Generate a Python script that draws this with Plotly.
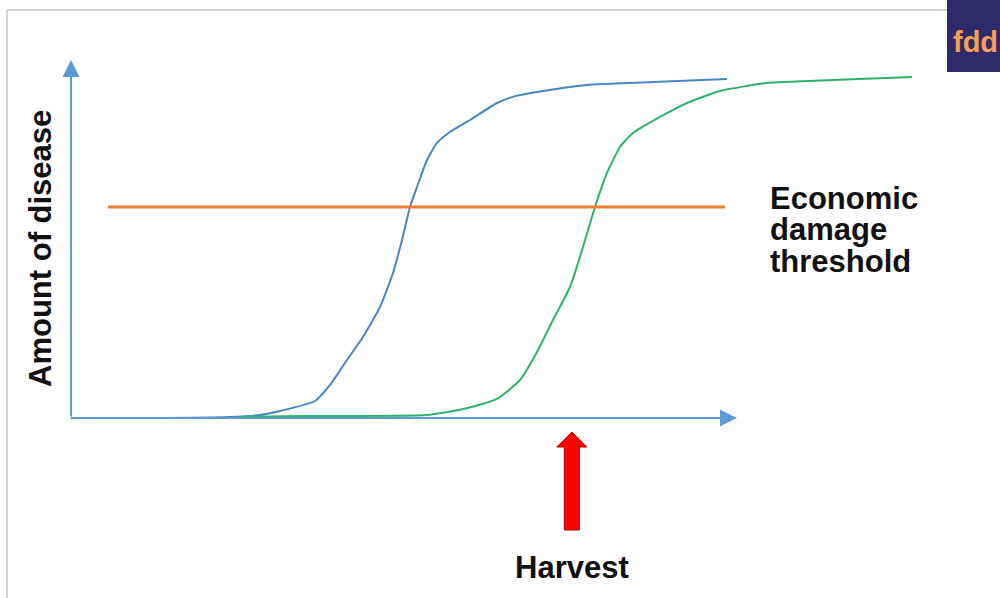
import plotly.graph_objects as go

# ---- data (time units vs amount of disease units) ----
blue_time = [0, 11.86, 23.87, 28.38, 31.38, 36.64, 38.89, 41.44, 43.84, 46.40, 48.35, 49.70, 50.90,
             51.95, 53.45, 54.95, 56.91, 59.91, 63.96, 66.7, 69.97, 77.48, 87.39, 98.50]
blue_disease = [0, 0, 0.28, 0.84, 1.96, 4.75, 9.22, 16.20, 22.63, 31.01, 40.50, 49.72, 58.94,
                64.53, 72.07, 76.82, 79.89, 83.24, 87.99, 89.9, 91.06, 93.02, 93.85, 94.69]

green_time = [25.38, 34.38, 53.45, 58.86, 63.96, 67.42, 69.97, 72.37, 74.92, 76.88, 78.68, 80.48,
              82.43, 84.38, 88.44, 92.49, 97.45, 104.50, 114.41, 126.28]
green_disease = [0.28, 0.56, 0.84, 2.51, 5.31, 10.61, 18.44, 27.37, 36.59, 47.77, 58.94, 68.44,
                 75.70, 79.61, 84.08, 87.99, 91.34, 93.58, 94.41, 95.25]

threshold_level = 58.94
threshold_span = [5.56, 98.2]
harvest_time = 75.2
axis_len_x = 100
axis_len_y = 100

# ---- figure ----
W, H = 1000, 598
x0_px, x100_px = 71, 737
y0_px, y100_px = 418, 60
sx = (x100_px - x0_px) / 100.0
sy = (y0_px - y100_px) / 100.0
xr = [-x0_px / sx, (W - x0_px) / sx]
yr = [-(H - y0_px) / sy, y0_px / sy]

fig = go.Figure()

blue = "#4a85c6"
green = "#2fb36a"
axis_blue = "#5b9bd5"

fig.add_trace(go.Scatter(x=blue_time, y=blue_disease, mode="lines",
                         line=dict(color=blue, width=2, shape="spline", smoothing=0.5),
                         hoverinfo="skip"))
fig.add_trace(go.Scatter(x=green_time, y=green_disease, mode="lines",
                         line=dict(color=green, width=2, shape="spline", smoothing=0.5),
                         hoverinfo="skip"))
fig.add_trace(go.Scatter(x=threshold_span, y=[threshold_level, threshold_level], mode="lines",
                         line=dict(color="#ed7d31", width=3), hoverinfo="skip"))

# harvest block arrow built from harvest_time
shaft_hw = 7.5 / sx
head_hw = 15 / sx
tip_y = -14 / sy
head_base_y = -29 / sy
bottom_y = -112 / sy
ax_pts = [harvest_time - shaft_hw, harvest_time - shaft_hw, harvest_time - head_hw, harvest_time,
          harvest_time + head_hw, harvest_time + shaft_hw, harvest_time + shaft_hw, harvest_time - shaft_hw]
ay_pts = [bottom_y, head_base_y, head_base_y, tip_y, head_base_y, head_base_y, bottom_y, bottom_y]
fig.add_trace(go.Scatter(x=ax_pts, y=ay_pts, mode="lines", fill="toself", fillcolor="#ff0000",
                         line=dict(color="#b00000", width=1), hoverinfo="skip"))

# axes arrows
fig.add_annotation(x=axis_len_x, y=0, ax=0, ay=0, xref="x", yref="y", axref="x", ayref="y",
                   text="", showarrow=True, arrowhead=2, arrowsize=1.7, arrowwidth=2,
                   arrowcolor=axis_blue, standoff=0)
fig.add_annotation(x=0, y=axis_len_y, ax=0, ay=0, xref="x", yref="y", axref="x", ayref="y",
                   text="", showarrow=True, arrowhead=2, arrowsize=1.7, arrowwidth=2,
                   arrowcolor=axis_blue, standoff=0)

font = dict(family="Liberation Sans, Arial, sans-serif", size=31, color="#111111")

def px(xp, yp):
    return xp / W, 1 - yp / H

# y label
x_, y_ = px(40, 249)
fig.add_annotation(x=x_, y=y_, xref="paper", yref="paper", text="<b>Amount of disease</b>",
                   showarrow=False, textangle=-90, font=font, xanchor="center", yanchor="middle")
# threshold label (three lines)
for txt, yp in [("Economic", 198), ("damage", 229), ("threshold", 261)]:
    x_, y_ = px(768, yp)
    fig.add_annotation(x=x_, y=y_, xref="paper", yref="paper", text="<b>%s</b>" % txt,
                       showarrow=False, font=font, xanchor="left", yanchor="middle")
# harvest label
x_, y_ = px(572, 567)
fig.add_annotation(x=x_, y=y_, xref="paper", yref="paper", text="<b>Harvest</b>",
                   showarrow=False, font=font, xanchor="center", yanchor="middle")

# page border and logo
shapes = [
    dict(type="line", xref="paper", yref="paper", x0=7 / W, x1=947 / W, y0=1 - 10 / H, y1=1 - 10 / H,
         line=dict(color="#c4c4c4", width=1.5)),
    dict(type="line", xref="paper", yref="paper", x0=7 / W, x1=7 / W, y0=1 - 10 / H, y1=0,
         line=dict(color="#c4c4c4", width=1.5)),
    dict(type="rect", xref="paper", yref="paper", x0=947 / W, x1=1, y0=1 - 72 / H, y1=1,
         fillcolor="#2f2b6b", line=dict(width=0)),
]
x_, y_ = px(951, 42)
fig.add_annotation(x=x_, y=y_, xref="paper", yref="paper", text="<b>fdd</b>", showarrow=False,
                   font=dict(family="Liberation Sans, Arial, sans-serif", size=29, color="#f2a052"),
                   xanchor="left", yanchor="middle")

fig.update_layout(width=W, height=H, margin=dict(l=0, r=0, t=0, b=0),
                  paper_bgcolor="white", plot_bgcolor="white", showlegend=False,
                  shapes=shapes,
                  xaxis=dict(range=xr, visible=False, fixedrange=True),
                  yaxis=dict(range=yr, visible=False, fixedrange=True))

fig.write_html("out.html", config={"displayModeBar": False},
               post_script="document.body.style.margin='0';")
